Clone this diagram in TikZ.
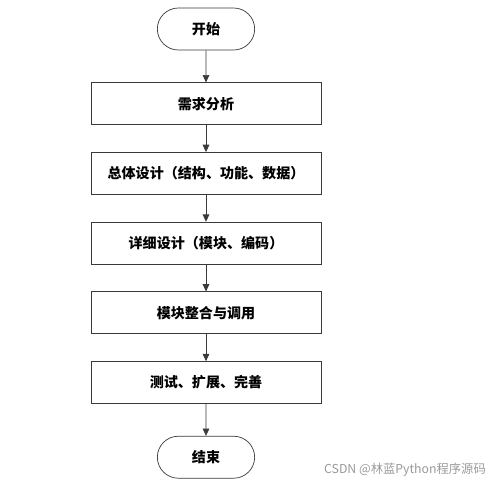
\documentclass[tikz,border=0pt]{standalone}
\usepackage{fontspec}
\setmainfont{Liberation Serif}
\newfontfamily\cjk{Noto Sans CJK SC}
\usetikzlibrary{arrows.meta,positioning,shapes.misc}
\definecolor{edge}{HTML}{3a3a3a}
\definecolor{mark}{HTML}{9a9a9a}

\begin{document}
\begin{tikzpicture}[
  node distance=8.1mm,
  every node/.style={font=\cjk\bfseries\fontsize{12}{14}\selectfont},
  terminal/.style={
    draw=edge, rounded rectangle, line width=0.6pt,
    minimum height=12.6mm, minimum width=30.6mm, inner sep=2pt
  },
  phase/.style={
    draw=edge, line width=0.6pt,
    minimum height=12.6mm, minimum width=69mm, align=center,
    inner sep=2pt
  },
  arr/.style={-{Triangle[length=2.2mm,width=2mm]}, line width=0.6pt, draw=edge}
]
  \useasboundingbox (0,0) rectangle (15,-14.49);

  \node[terminal] (start) at (6.18,-0.87) {开始};
  \node[phase, below=9.6mm of start] (req)   {需求分析};
  \node[phase, below=of req]    (arch)  {总体设计（结构、功能、数据）};
  \node[phase, below=of arch]   (detail) {详细设计（模块、编码）};
  \node[phase, below=of detail] (merge) {模块整合与调用};
  \node[phase, below=of merge]  (test)  {测试、扩展、完善};
  \node[terminal, below=9.6mm of test] (stop) {结束};

  \draw[arr] (start)  -- (req);
  \draw[arr] (req)    -- (arch);
  \draw[arr] (arch)   -- (detail);
  \draw[arr] (detail) -- (merge);
  \draw[arr] (merge)  -- (test);
  \draw[arr] (test)   -- (stop);

  \node[font=\cjk\fontsize{10.5}{12}\selectfont, text=mark] (wm) at (12.15,-14.1) {CSDN @林蓝Python程序源码};
\end{tikzpicture}
\end{document}
